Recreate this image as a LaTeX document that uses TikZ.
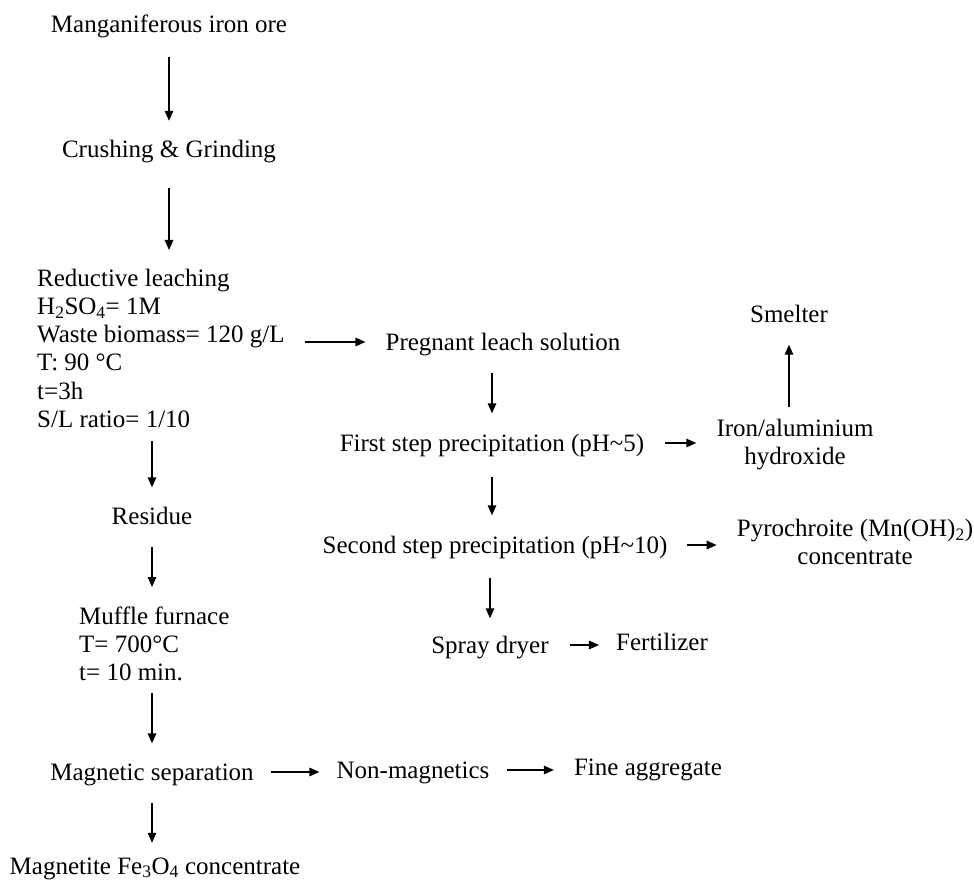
\documentclass[tikz,border=0pt]{standalone}
\usepackage{fontspec}
\setmainfont{Liberation Serif}
\usetikzlibrary{arrows.meta}

\begin{document}
\begin{tikzpicture}[x=1pt,y=-1pt,
    every node/.style={inner sep=0pt,font=\fontsize{25}{28.3}\selectfont},
    lbl/.style={text height=18pt,text depth=2pt},
    block/.style={anchor=north west,align=left},
    pair/.style={anchor=north,align=center}]
      \useasboundingbox (0,0) rectangle (974,882);
      \draw
        (169,25) node[lbl] (ore){Manganiferous iron ore}
        (169,150) node[lbl] (crush){Crushing \& Grinding}
        (37,268.5) node[block] (leach){Reductive leaching\\H\textsubscript{2}SO\textsubscript{4}= 1M\\Waste biomass= 120 g/L\\T: 90 °C\\t=3h\\S/L ratio= 1/10}
        (503,342) node[lbl] (pls){Pregnant leach solution}
        (492,443) node[lbl] (first){First step precipitation (pH\textasciitilde5)}
        (795,418.5) node[pair] (iron){Iron/aluminium\\hydroxide}
        (789,315) node[lbl] (smelter){Smelter}
        (495,545) node[lbl] (second){Second step precipitation (pH\textasciitilde10)}
        (855,519) node[pair] (pyro){Pyrochroite (Mn(OH)\textsubscript{2})\\concentrate}
        (490,645) node[lbl] (spray){Spray dryer}
        (662,642) node[lbl] (fert){Fertilizer}
        (152,516) node[lbl] (residue){Residue}
        (79,606.5) node[block] (muffle){Muffle furnace\\T= 700°C\\t= 10 min.}
        (152,772) node[lbl] (magsep){Magnetic separation}
        (413,770) node[lbl] (nonmag){Non-magnetics}
        (648,767) node[lbl] (fine){Fine aggregate}
        (155,866) node[lbl] (magnetite){Magnetite Fe\textsubscript{3}O\textsubscript{4} concentrate};
      \begin{scope}[-{Triangle[length=10pt,width=8.5pt]},line width=1.4pt]
        \draw[shorten <=22pt,shorten >=19pt] (ore) to (crush);
        \draw[shorten <=27.5pt,shorten >=18.5pt] (crush) to (crush |- leach.north);
        \draw[shorten <=20pt,shorten >=20pt] (leach.east |- pls) to (pls);
        \draw[shorten <=13pt,shorten >=18.5pt] (residue |- leach.south) to (residue);
        \draw[shorten <=20.5pt,shorten >=19.5pt] (residue) to (residue |- muffle.north);
        \draw[shorten <=12pt,shorten >=18.5pt] (magsep |- muffle.south) to (magsep);
        \draw[shorten <=20.5pt,shorten >=13pt] (magsep) to (magsep |- magnetite.north);
        \draw[shorten <=17pt,shorten >=17pt] (magsep) to (magsep -| nonmag.west);
        \draw[shorten <=17pt,shorten >=20pt] (nonmag) to (nonmag -| fine.west);
        \draw[shorten <=20.5pt,shorten >=19.5pt] (first |- pls.south) to (first);
        \draw[shorten <=21pt,shorten >=20pt] (first) to (first -| iron.west);
        \draw[shorten <=11.5pt,shorten >=19.5pt] (smelter |- iron.north) to (smelter);
        \draw[shorten <=23.5pt,shorten >=19.5pt] (first) to (first |- second.north);
        \draw[shorten <=19pt,shorten >=20pt] (second) to (second -| pyro.west);
        \draw[shorten <=22.5pt,shorten >=16.5pt] (spray |- second.south) to (spray);
        \draw[shorten <=21pt,shorten >=17pt] (spray) to (spray -| fert.west);
      \end{scope}
    \end{tikzpicture}
\end{document}
